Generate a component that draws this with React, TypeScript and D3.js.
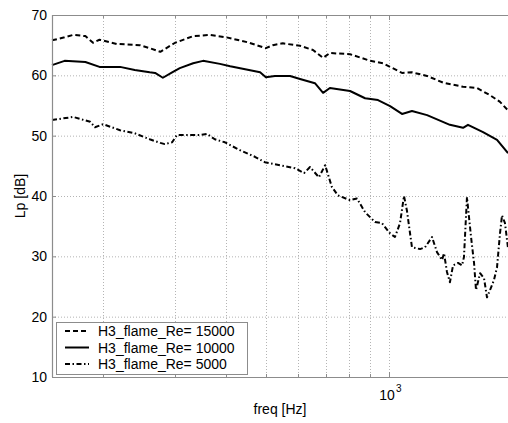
import * as d3 from 'd3';

// readings: frequency [Hz] / level [dB]
const freqRe15000 = [150, 161, 169, 181, 189, 196, 216, 246, 260, 276, 300, 332, 365, 400, 450, 500, 520, 550, 606, 652, 690, 717, 803, 900, 967, 1006, 1076, 1138, 1239, 1355, 1517, 1641, 1766, 1868, 1954];
const lpRe15000 = [65.8, 66.3, 66.7, 66.5, 65.4, 65.9, 65.2, 65.0, 64.5, 63.9, 65.4, 66.5, 66.7, 66.3, 65.5, 64.5, 65.0, 65.3, 64.9, 64.2, 62.9, 63.7, 63.5, 62.4, 62.0, 61.4, 60.4, 60.5, 59.9, 58.8, 58.1, 57.9, 56.7, 55.6, 54.2];

const freqRe10000 = [150, 161, 181, 196, 220, 239, 260, 268, 280, 295, 308, 332, 351, 386, 409, 445, 484, 500, 526, 573, 606, 659, 690, 717, 803, 874, 940, 1006, 1076, 1138, 1239, 1409, 1517, 1560, 1698, 1837, 1954];
const lpRe10000 = [61.7, 62.4, 62.2, 61.4, 61.4, 60.9, 60.5, 60.4, 59.6, 60.5, 61.2, 62.0, 62.4, 61.9, 61.5, 61.0, 60.5, 59.7, 59.9, 59.9, 59.4, 58.7, 57.1, 57.9, 57.4, 56.2, 55.9, 54.9, 53.6, 54.1, 53.4, 51.8, 51.3, 51.8, 50.6, 49.3, 47.1];

const freqRe5000 = [150, 169, 186, 191, 200, 220, 239, 260, 276, 283, 295, 303, 326, 345, 359, 375, 397, 432, 470, 497, 541, 589, 620, 641, 674, 698, 725, 750, 803, 835, 874, 924, 961, 1006, 1034, 1064, 1088, 1106, 1138, 1191, 1225, 1274, 1310, 1348, 1363, 1386, 1409, 1434, 1475, 1509, 1525, 1551, 1587, 1614, 1632, 1670, 1707, 1736, 1766, 1806, 1837, 1868, 1889, 1921, 1954];
const lpRe5000 = [52.6, 53.1, 52.3, 51.4, 51.9, 50.9, 50.4, 49.4, 48.8, 48.6, 48.9, 50.1, 50.1, 50.1, 50.3, 49.4, 48.9, 47.6, 46.5, 45.6, 45.1, 44.6, 43.8, 44.8, 43.1, 45.1, 41.5, 40.1, 39.3, 39.6, 37.3, 35.7, 35.5, 33.8, 33.2, 35.5, 40.0, 37.6, 31.5, 31.2, 31.5, 33.2, 30.7, 29.4, 30.5, 27.4, 25.7, 28.5, 28.9, 28.5, 29.9, 39.8, 33.2, 28.9, 24.4, 27.2, 26.4, 23.2, 24.4, 26.1, 28.2, 33.8, 36.8, 35.5, 31.4];

const yTicks = [10, 20, 30, 40, 50, 60, 70];
const xGridTicks = [200, 300, 400, 500, 600, 700, 800, 900, 1000];
const legendLabels = ['H3_flame_Re= 15000', 'H3_flame_Re= 10000', 'H3_flame_Re= 5000'];

const W = 508;
const H = 423;
const margin = { top: 15, right: 0, bottom: 46, left: 52 };
const FONT = '"Liberation Sans", Arial, Helvetica, sans-serif';

export default function App() {
  const x = d3.scaleLog().domain([150, 1954]).range([margin.left, W - margin.right]);
  const y = d3.scaleLinear().domain([10, 70]).range([H - margin.bottom, margin.top]);

  const series = [
    { f: freqRe15000, v: lpRe15000, dash: '5,3' },
    { f: freqRe10000, v: lpRe10000, dash: null },
    { f: freqRe5000, v: lpRe5000, dash: '5,2.5,1.5,2.5' },
  ];

  const line = d3.line<[number, number]>()
    .x(d => x(d[0]))
    .y(d => y(d[1]));

  const x0 = margin.left;
  const x1 = W - margin.right;
  const y0 = y(10);
  const y1 = y(70);
  const axisColor = '#8c8c8c';
  const gridColor = '#b4b4b4';

  // legend box
  const lg = { x: 56, y: 322, w: 191, h: 52 };

  return (
    <svg width={W} height={H} style={{ position: 'absolute', left: 0, top: 0, background: '#fff' }} fontFamily={FONT}>
      <rect x={0} y={0} width={W} height={H} fill="#fff" />

      {/* grid */}
      {yTicks.filter(t => t > 10 && t < 70).map(t => (
        <line key={'gy' + t} x1={x0} x2={x1} y1={y(t) + 0.5} y2={y(t) + 0.5}
          stroke={gridColor} strokeWidth={1} strokeDasharray="1,2" />
      ))}
      {xGridTicks.map(t => (
        <line key={'gx' + t} x1={Math.round(x(t)) + 0.5} x2={Math.round(x(t)) + 0.5} y1={y1} y2={y0}
          stroke={gridColor} strokeWidth={1} strokeDasharray="1,2" />
      ))}

      {/* series */}
      {series.map((s, i) => (
        <path key={'s' + i}
          d={line(s.f.map((f, j) => [f, s.v[j]] as [number, number])) || ''}
          fill="none" stroke="#000" strokeWidth={2}
          strokeDasharray={s.dash || undefined} strokeLinejoin="round" />
      ))}

      {/* axes frame */}
      <line x1={x0} x2={x1} y1={y1 + 0.5} y2={y1 + 0.5} stroke={axisColor} strokeWidth={1.2} />
      <line x1={x0} x2={x1} y1={y0 + 0.5} y2={y0 + 0.5} stroke={axisColor} strokeWidth={1.2} />
      <line x1={x0 + 0.5} x2={x0 + 0.5} y1={y1} y2={y0} stroke={axisColor} strokeWidth={1.2} />

      {/* y ticks */}
      {yTicks.map(t => (
        <g key={'yt' + t}>
          <line x1={x0} x2={x0 + 4} y1={y(t) + 0.5} y2={y(t) + 0.5} stroke={axisColor} />
          <text x={x0 - 5} y={y(t)} dy="0.36em" textAnchor="end" fontSize={14} fill="#000">{t}</text>
        </g>
      ))}

      {/* x ticks */}
      {xGridTicks.map(t => (
        <g key={'xt' + t}>
          <line x1={Math.round(x(t)) + 0.5} x2={Math.round(x(t)) + 0.5} y1={y0} y2={y0 - (t === 1000 ? 5 : 3)} stroke={axisColor} />
          <line x1={Math.round(x(t)) + 0.5} x2={Math.round(x(t)) + 0.5} y1={y1} y2={y1 + (t === 1000 ? 5 : 3)} stroke={axisColor} />
        </g>
      ))}
      <text x={x(1000) - 2} y={400} textAnchor="middle" fontSize={14} fill="#000">10</text>
      <text x={x(1000) + 7} y={392} textAnchor="start" fontSize={10} fill="#000">3</text>

      {/* axis labels */}
      <text x={(x0 + x1) / 2} y={414} textAnchor="middle" fontSize={14} fill="#000">freq [Hz]</text>
      <text transform={`translate(25,196) rotate(-90)`} textAnchor="middle" fontSize={14} fill="#000">Lp [dB]</text>

      {/* legend */}
      <rect x={lg.x + 0.5} y={lg.y + 0.5} width={lg.w} height={lg.h} fill="#fff" stroke={axisColor} strokeWidth={1} />
      {series.map((s, i) => {
        const ly = 331 + i * 16.5;
        return (
          <g key={'lg' + i}>
            <line x1={65} x2={89} y1={ly} y2={ly} stroke="#000" strokeWidth={2} strokeDasharray={s.dash || undefined} />
            <text x={98} y={ly} dy="0.36em" fontSize={14} fill="#000">{legendLabels[i]}</text>
          </g>
        );
      })}
    </svg>
  );
}
